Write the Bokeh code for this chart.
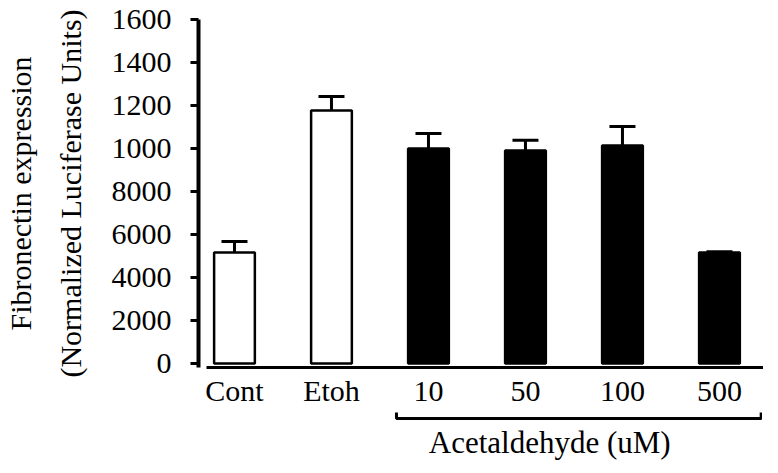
from bokeh.plotting import figure
from bokeh.layouts import column
from bokeh.models import Range1d, FixedTicker, LinearAxis, Whisker, ColumnDataSource, TeeHead, Label
from bokeh.embed import file_html
from bokeh.resources import INLINE

# ---- data ----
categories = ["Cont", "Etoh", "10", "50", "100", "500"]
values = [5160, 11770, 10000, 9910, 10140, 5160]
errors = [510, 650, 700, 470, 880, 40]
fill_colors = ["white", "white", "black", "black", "black", "black"]
y_ticks = [0, 2000, 4000, 6000, 8000, 10000, 12000, 14000, 16000]
y_tick_labels = ["0", "2000", "4000", "6000", "8000", "1000", "1200", "1400", "1600"]
y_title_1 = "Fibronectin expression"
y_title_2 = "(Normalized Luciferase Units)"
bracket_label = "Acetaldehyde (uM)"
bracket_first = "10"

FONT = "Liberation Serif"
FS = "30px"

x = list(range(len(categories)))
upper = [v + e for v, e in zip(values, errors)]
src = ColumnDataSource(dict(x=x, top=values, upper=upper, color=fill_colors))

xr = Range1d(-0.371, 5.454)
p = figure(frame_width=565, frame_height=348, output_backend="svg", toolbar_location=None,
           x_range=xr, y_range=Range1d(-186, 16000),
           min_border_left=197, min_border_right=0, min_border_top=19, min_border_bottom=39)
p.outline_line_color = None
p.xgrid.grid_line_color = None
p.ygrid.grid_line_color = None

p.vbar(x="x", top="top", bottom=0, width=0.42, fill_color="color",
       line_color="black", line_width=2.5, source=src)
p.add_layout(Whisker(base="x", lower="top", upper="upper", source=src,
                     line_color="black", line_width=3,
                     upper_head=TeeHead(size=26, line_width=3, line_color="black"),
                     lower_head=None))

# y axis
ya = p.yaxis[0]
ya.ticker = FixedTicker(ticks=y_ticks)
ya.major_label_overrides = {t: l for t, l in zip(y_ticks, y_tick_labels)}
ya.axis_line_width = 4
ya.major_tick_line_width = 3
ya.major_tick_out = 8
ya.major_tick_in = 0
ya.minor_tick_out = 0
ya.minor_tick_in = 0
ya.major_label_standoff = 19
ya.major_label_text_font = FONT
ya.major_label_text_font_size = FS
ya.major_label_text_color = "black"
ya.axis_label = y_title_2
ya.axis_label_text_font = FONT
ya.axis_label_text_font_size = FS
ya.axis_label_text_font_style = "normal"
ya.axis_label_text_color = "black"
ya.axis_label_standoff = 22

ya2 = LinearAxis(ticker=FixedTicker(ticks=[]), axis_line_color=None,
                 major_tick_out=0, major_tick_in=0, minor_tick_out=0, minor_tick_in=0,
                 axis_label=y_title_1, axis_label_text_font=FONT, axis_label_text_font_size=FS,
                 axis_label_text_font_style="normal", axis_label_text_color="black",
                 axis_label_standoff=14)
p.add_layout(ya2, "left")

# x axis
xa = p.xaxis[0]
xa.ticker = FixedTicker(ticks=x)
xa.major_label_overrides = {i: c for i, c in zip(x, categories)}
xa.bounds = (-0.29, 5.454)
xa.axis_line_width = 3
xa.major_tick_out = 0
xa.major_tick_in = 0
xa.minor_tick_out = 0
xa.minor_tick_in = 0
xa.major_label_standoff = 6
xa.major_label_text_font = FONT
xa.major_label_text_font_size = FS
xa.major_label_text_color = "black"

# bracket panel below
H2 = 51
p2 = figure(frame_width=565, frame_height=H2, output_backend="svg", toolbar_location=None,
            x_range=xr, y_range=Range1d(0, H2), x_axis_type=None, y_axis_type=None,
            min_border_left=197, min_border_right=0, min_border_top=0, min_border_bottom=0)
p2.outline_line_color = None
p2.xgrid.grid_line_color = None
p2.ygrid.grid_line_color = None
b0 = categories.index(bracket_first) - 0.33
b1 = len(categories) - 1 + 0.43
p2.line(x=[b0, b0, b1, b1], y=[H2 - 3, H2 - 9, H2 - 9, H2 - 3], line_color="black", line_width=3)
p2.add_layout(Label(x=3.25, y=1, text=bracket_label, text_align="center", text_baseline="bottom",
                    text_font=FONT, text_font_size="31px", text_color="black"))

layout = column(p, p2, spacing=0)
open("out.html", "w").write(file_html(layout, INLINE))
